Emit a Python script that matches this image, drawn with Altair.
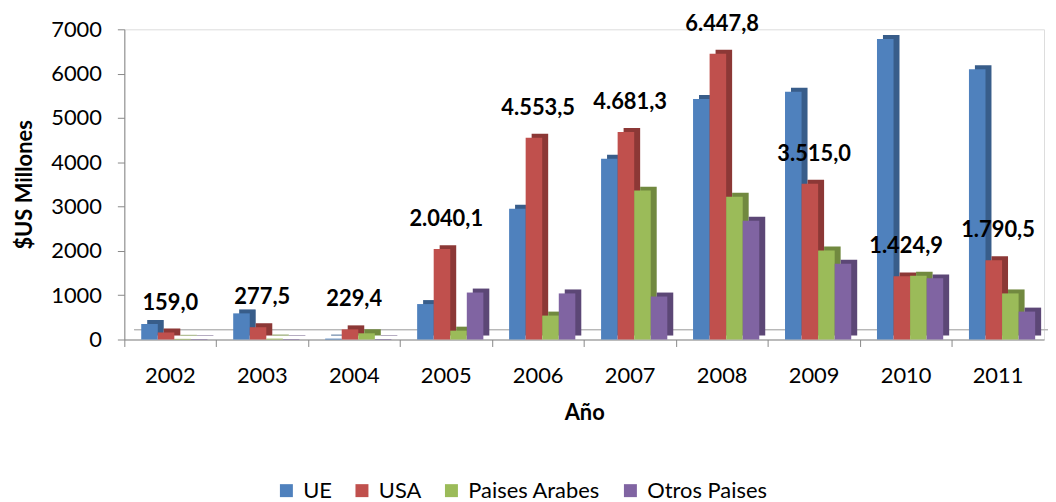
import altair as alt
import pandas as pd

years = ["2002", "2003", "2004", "2005", "2006", "2007", "2008", "2009", "2010", "2011"]
series = ["UE", "USA", "Paises Arabes", "Otros Paises"]
ue = [350, 590, 20, 800, 2950, 4080, 5430, 5590, 6780, 6100]
usa = [159.0, 277.5, 229.4, 2040.1, 4553.5, 4681.3, 6447.8, 3515.0, 1424.9, 1790.5]
arabes = [15, 20, 140, 200, 540, 3360, 3220, 2010, 1440, 1040]
otros = [10, 10, 10, 1060, 1040, 970, 2680, 1710, 1380, 630]
usa_labels = ["159,0", "277,5", "229,4", "2.040,1", "4.553,5", "4.681,3",
              "6.447,8", "3.515,0", "1.424,9", "1.790,5"]
colors = ["#4F81BD", "#C0504D", "#9BBB59", "#8064A2"]
dark = ["#385D8A", "#8C3836", "#71893F", "#5C4776"]

rows = []
for name, vals in zip(series, [ue, usa, arabes, otros]):
    for y, v in zip(years, vals):
        rows.append({"Año": y, "Serie": name, "Valor": v})
df = pd.DataFrame(rows)
lab = pd.DataFrame({"Año": years, "Valor": usa, "Etiqueta": usa_labels})

FONT = "Lato"
FS = 22
x = alt.X("Año:N", sort=years, title="Año",
          scale=alt.Scale(paddingInner=0, paddingOuter=0),
          axis=alt.Axis(labelAngle=0, labelFontSize=FS, labelColor="#000",
                        titleFontSize=FS, titleFontWeight="bold", titleColor="#000",
                        titlePadding=16, labelPadding=19, domainColor="#888",
                        tickColor="#888", tickSize=7, bandPosition=0, labelFont=FONT,
                        titleFont=FONT))
y = alt.Y("Valor:Q", title="$US Millones",
          scale=alt.Scale(domain=[0, 7000], nice=False),
          axis=alt.Axis(values=list(range(0, 7001, 1000)), grid=False, format="d",
                        labelFontSize=FS, labelColor="#000", titleFontSize=FS,
                        titleFontWeight="bold", titleColor="#000", titlePadding=14,
                        domainColor="#888", tickColor="#888", tickSize=7,
                        labelFont=FONT, titleFont=FONT, labelPadding=16))

BW = 66.6
side = alt.Chart(df).mark_bar(yOffset=-4).encode(
    x=x, y=y,
    xOffset=alt.XOffset("Serie:N", sort=series,
                        scale=alt.Scale(domain=series, paddingInner=0, paddingOuter=0,
                                        range=[23, 23 + BW])),
    color=alt.Color("Serie:N", sort=series,
                    scale=alt.Scale(domain=series, range=dark), legend=None),
)
front = alt.Chart(df).mark_bar().encode(
    x=x, y=y,
    xOffset=alt.XOffset("Serie:N", sort=series,
                        scale=alt.Scale(domain=series, paddingInner=0, paddingOuter=0,
                                        range=[17, 17 + BW])),
    color=alt.Color("Serie:N", sort=series, title=None,
                    scale=alt.Scale(domain=series, range=colors),
                    legend=alt.Legend(orient="none", direction="horizontal",
                                      legendX=152, legendY=453, symbolType="square",
                                      symbolSize=170, labelFontSize=FS, labelFont=FONT,
                                      labelColor="#000", columnPadding=19,
                                      symbolStrokeWidth=0, labelOffset=6)),
)
floor = alt.Chart(lab).mark_rule(color="#b8b8b8", strokeWidth=1, yOffset=-10).encode(
    y=alt.datum(0), x=alt.value(10), x2=alt.value(933))
text = alt.Chart(lab).mark_text(fontSize=FS, fontWeight="bold", font=FONT,
                                dy=-30, baseline="middle", color="#000").encode(
    x=alt.X("Año:N", sort=years, scale=alt.Scale(paddingInner=0, paddingOuter=0)),
    y=alt.Y("Valor:Q"), text="Etiqueta:N")

chart = alt.layer(floor, side, front, text).resolve_scale(
    color="independent", xOffset="independent").properties(
    width=925, height=312,
    autosize=alt.AutoSizeParams(type="none"),
    padding={"left": 117, "top": 20, "right": 4, "bottom": 162},
).configure_view(stroke=None).configure(background="white")

chart.save("out.html", embed_options={"renderer": "svg", "actions": False})
